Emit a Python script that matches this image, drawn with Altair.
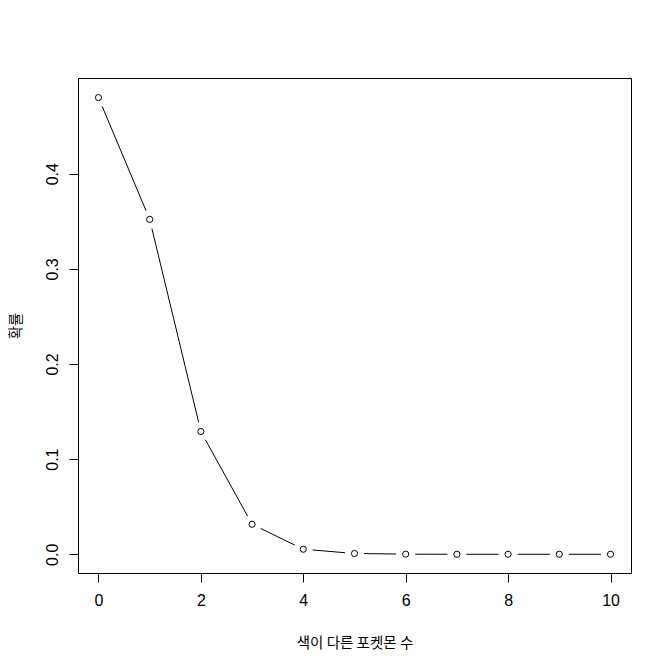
import altair as alt
import pandas as pd
import numpy as np

counts = [0, 1, 2, 3, 4, 5, 6, 7, 8, 9, 10]
probs = [0.480, 0.352, 0.129, 0.0315, 0.0053, 0.0008, 0.0001, 0.0, 0.0, 0.0, 0.0]
x_ticks = [0, 2, 4, 6, 8, 10]
y_ticks = [0.0, 0.1, 0.2, 0.3, 0.4]

W, H = 553, 495
XD = [-0.4, 10.4]
YD = [-0.0197, 0.5006]
GAP_PX = 9.5  # R type="b" leaves a gap around each point

df = pd.DataFrame({"n": counts, "p": probs})

# line segments between consecutive points, shortened at both ends (type="b")
n0 = np.array(counts[:-1], float); n1 = np.array(counts[1:], float)
p0 = np.array(probs[:-1], float); p1 = np.array(probs[1:], float)
kx = W / (XD[1] - XD[0]); ky = H / (YD[1] - YD[0])
L = np.hypot((n1 - n0) * kx, (p1 - p0) * ky)
t = GAP_PX / L
seg = pd.DataFrame({
    "n": n0 + t * (n1 - n0), "p": p0 + t * (p1 - p0),
    "n2": n1 - t * (n1 - n0), "p2": p1 - t * (p1 - p0),
})

FONT = "Liberation Sans"
KFONT = "Noto Sans CJK KR"

xs = alt.Scale(domain=XD, nice=False, zero=False)
ys = alt.Scale(domain=YD, nice=False, zero=False)

x_enc = alt.X(
    "n:Q", scale=xs,
    axis=alt.Axis(
        values=x_ticks, format="d", grid=False, domain=False,
        tickSize=9, tickColor="black", labelPadding=10,
        labelFont=FONT, labelFontSize=16, labelColor="black",
        title="색이 다른 포켓몬 수", titleFont=KFONT, titleFontSize=14.5,
        titleFontWeight="normal", titleColor="black",
        titleY=70, titleBaseline="middle",
    ),
)
y_enc = alt.Y(
    "p:Q", scale=ys,
    axis=alt.Axis(
        values=y_ticks, format=".1f", grid=False, domain=False,
        tickSize=9, tickColor="black", labelPadding=12,
        labelAngle=270, labelAlign="center", labelBaseline="alphabetic",
        labelFont=FONT, labelFontSize=16, labelColor="black",
        title="확률", titleFont=KFONT, titleFontSize=14.5,
        titleFontWeight="normal", titleColor="black",
        titleAngle=270, titleX=-62, titleBaseline="middle",
    ),
)

segs = alt.Chart(seg).mark_rule(strokeWidth=1).encode(
    x=x_enc, y=y_enc, x2="n2:Q", y2="p2:Q", color=alt.value("black")
)
pts = alt.Chart(df).mark_point(shape="circle", filled=False, strokeWidth=1, opacity=1).encode(
    x=x_enc, y=y_enc, color=alt.value("black"), size=alt.value(38)
)

chart = (
    alt.layer(segs, pts)
    .properties(
        width=W, height=H,
        autosize=alt.AutoSizeParams(type="none"),
        padding={"left": 70, "top": 70, "right": 33, "bottom": 90},
        background="white",
    )
    .configure_view(stroke="black", strokeWidth=1)
)

chart.save("out.html", embed_options={"renderer": "svg", "actions": False})
